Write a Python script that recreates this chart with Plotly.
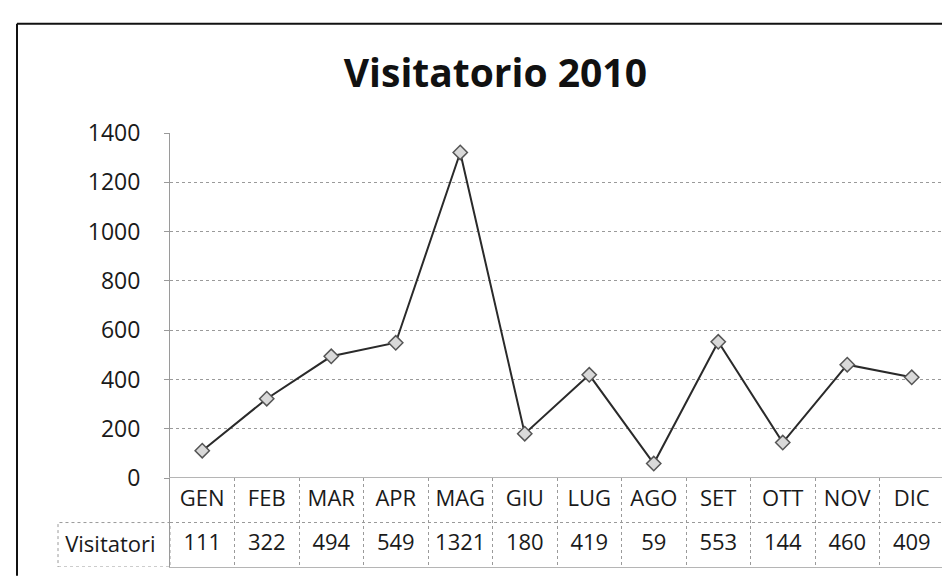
import plotly.graph_objects as go

# data
MONTHS = ["GEN", "FEB", "MAR", "APR", "MAG", "GIU",
          "LUG", "AGO", "SET", "OTT", "NOV", "DIC"]
VISITATORI = [111, 322, 494, 549, 1321, 180, 419, 59, 553, 144, 460, 409]
SERIES_NAME = "Visitatori"
TITLE = "Visitatorio 2010"
Y_TICKS = [0, 200, 400, 600, 800, 1000, 1200, 1400]

FONT = "Open Sans, Arial, sans-serif"
GRID = "#9a9a9a"
INK = "#1a1a1a"

fig = go.Figure()

# line with diamond markers
fig.add_trace(go.Scatter(
    x=MONTHS, y=VISITATORI, mode="lines+markers",
    line=dict(color="#2a2a2a", width=2),
    marker=dict(symbol="diamond", size=11, color="#d9d9d9",
                line=dict(color="#555555", width=1.5)),
    xaxis="x", yaxis="y", showlegend=False, hoverinfo="x+y",
))

# data table below the plot: month row and value row
fig.add_trace(go.Scatter(
    x=MONTHS, y=[1.5] * len(MONTHS), mode="text", text=MONTHS,
    textfont=dict(family=FONT, size=22, color=INK),
    xaxis="x2", yaxis="y2", showlegend=False, hoverinfo="skip",
))
fig.add_trace(go.Scatter(
    x=MONTHS, y=[0.5] * len(MONTHS), mode="text",
    text=[str(v) for v in VISITATORI],
    textfont=dict(family=FONT, size=22, color=INK),
    xaxis="x2", yaxis="y2", showlegend=False, hoverinfo="skip",
))

split = 92 / 449  # table height share of the plot area

fig.update_layout(
    width=950, height=580,
    margin=dict(l=162, r=14, t=125, b=6),
    paper_bgcolor="white", plot_bgcolor="white",
    font=dict(family=FONT, color=INK, size=22),
    title=dict(text=f"<b>{TITLE}</b>", x=0.513, xanchor="center",
               y=0.888, yanchor="middle",
               font=dict(family=FONT, size=39, color="#111111")),
    xaxis=dict(
        domain=[0, 1], anchor="y", type="category",
        range=[-0.5, len(MONTHS) - 0.5],
        showticklabels=False, showgrid=False, zeroline=False,
        showline=False,
    ),
    yaxis=dict(
        domain=[split, 1], anchor="x", range=[0, 1400],
        tickvals=Y_TICKS, showgrid=True, gridcolor=GRID, griddash="dot",
        gridwidth=1, zeroline=False, showline=True, linecolor=GRID,
        linewidth=1, ticks="outside", ticklen=5, tickcolor=GRID,
        ticklabelstandoff=19, tickfont=dict(size=23, family=FONT),
    ),
    xaxis2=dict(
        domain=[0, 1], anchor="y2", matches="x", type="category",
        showticklabels=False, showgrid=True, tickson="boundaries",
        gridcolor=GRID, griddash="dot", gridwidth=1, zeroline=False,
        showline=True, mirror=True, linecolor="#b5b5b5", linewidth=1,
    ),
    yaxis2=dict(
        domain=[0, split], anchor="x2", range=[0, 2],
        tickvals=[0.5], ticktext=[SERIES_NAME], showgrid=False,
        zeroline=False, showline=True, mirror=True, linecolor=GRID,
        linewidth=1, ticklabelstandoff=9,
        tickfont=dict(size=22, family=FONT),
        minor=dict(tickvals=[1], showgrid=True, gridcolor=GRID,
                   griddash="dot", ticks=""),
    ),
    shapes=[
        # "Visitatori" header cell border
        dict(type="rect", xref="x2 domain", yref="y2",
             x0=-112 / 774, x1=0, y0=0, y1=1,
             line=dict(color=GRID, width=1, dash="dot")),
        # chart frame (left and top edges)
        dict(type="line", xref="paper", yref="paper",
             x0=-153 / 774, x1=-153 / 774, y0=-0.02, y1=562 / 449,
             line=dict(color="#111111", width=2)),
        dict(type="line", xref="paper", yref="paper",
             x0=-153 / 774, x1=790 / 774, y0=562 / 449, y1=562 / 449,
             line=dict(color="#111111", width=2)),
    ],
)

fig.write_html("out.html")
